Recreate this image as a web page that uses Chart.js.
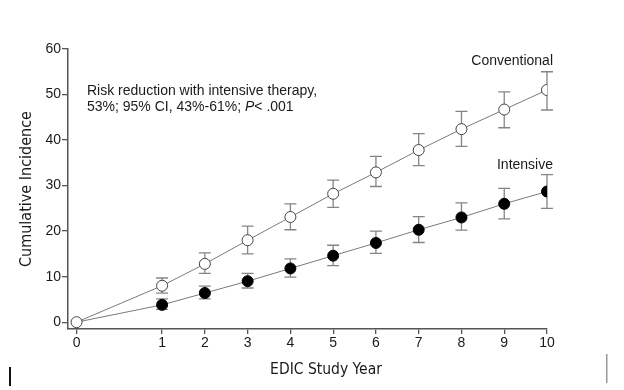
<!DOCTYPE html>
<html>
<head>
<meta charset="utf-8">
<script src="https://cdn.jsdelivr.net/npm/chart.js"></script>
<style>
  html, body { margin: 0; padding: 0; background: #fff; }
  #wrap { width: 624px; height: 390px; }
</style>
</head>
<body>
<div id="wrap"><canvas id="incidenceChart"></canvas></div>
<script>
// EDIC study years (year 0 is drawn with a wider gap before year 1)
const years = [0, 1, 2, 3, 4, 5, 6, 7, 8, 9, 10];
const conventional = [0, 8.0, 12.8, 18.0, 23.1, 28.2, 32.9, 37.8, 42.4, 46.7, 51.0];
const conventionalUpper = [null, 9.7, 15.2, 21.1, 26.0, 31.2, 36.4, 41.4, 46.3, 50.6, 55.0];
const conventionalLower = [null, 6.4, 10.7, 15.0, 20.3, 25.2, 29.8, 34.4, 38.6, 42.7, 46.6];
const intensive = [0, 3.8, 6.4, 9.0, 11.8, 14.6, 17.4, 20.3, 23.0, 26.0, 28.7];
const intensiveUpper = [null, 5.1, 7.9, 10.7, 13.9, 16.9, 20.0, 23.2, 26.2, 29.4, 32.4];
const intensiveLower = [null, 2.8, 5.1, 7.5, 9.9, 12.4, 15.1, 17.5, 20.2, 22.7, 25.0];
const yTicks = [0, 10, 20, 30, 40, 50, 60];

// axis position: year 0 sits one step further left than a regular step
const xPos = yr => yr === 0 ? -1 : yr;
const xTicks = years.map(xPos);

const textFont = 'Liberation Sans, Arial, sans-serif';
const titleFont = 'DejaVu Sans Condensed, Liberation Sans, sans-serif';

const errorBars = {
    id: 'errorBars',
    beforeDatasetsDraw(chart) {
        const ctx = chart.ctx;
        const xs = chart.scales.x, ys = chart.scales.y;
        const draw = (upper, lower) => {
            years.forEach((yr, i) => {
                if (upper[i] == null) return;
                const px = xs.getPixelForValue(xPos(yr));
                const top = ys.getPixelForValue(upper[i]);
                const bot = ys.getPixelForValue(lower[i]);
                ctx.beginPath();
                ctx.moveTo(px, top); ctx.lineTo(px, bot);
                ctx.moveTo(px - 6, top); ctx.lineTo(px + 6, top);
                ctx.moveTo(px - 6, bot); ctx.lineTo(px + 6, bot);
                ctx.stroke();
            });
        };
        ctx.save();
        ctx.strokeStyle = '#858585';
        ctx.lineWidth = 1.3;
        draw(conventionalUpper, conventionalLower);
        draw(intensiveUpper, intensiveLower);
        ctx.restore();
    }
};

const labels = {
    id: 'labels',
    afterDraw(chart) {
        const ctx = chart.ctx;
        const right = chart.chartArea.right + 6;
        ctx.save();
        ctx.fillStyle = '#1a1a1a';
        ctx.font = '14px ' + textFont;
        ctx.textAlign = 'right';
        ctx.textBaseline = 'alphabetic';
        ctx.fillText('Conventional', right, 65);
        ctx.fillText('Intensive', right, 169);

        ctx.textAlign = 'left';
        const x0 = 87;
        ctx.fillText('Risk reduction with intensive therapy,', x0, 95);
        let part = '53%; 95% CI, 43%-61%; ';
        ctx.fillText(part, x0, 111);
        let x = x0 + ctx.measureText(part).width;
        ctx.font = 'italic 14px ' + textFont;
        ctx.fillText('P', x, 111);
        x += ctx.measureText('P').width;
        ctx.font = '14px ' + textFont;
        ctx.fillText('< .001', x, 111);

        // x axis title, set a little right of the axis centre as in the original
        ctx.textAlign = 'center';
        ctx.font = '15.5px ' + titleFont;
        ctx.fillText('EDIC Study Year', 326, 374);

        // stray scan marks
        ctx.fillStyle = '#111';
        ctx.fillRect(9, 367, 2, 19);
        ctx.fillStyle = '#999';
        ctx.fillRect(606, 354, 1.5, 29);
        ctx.restore();
    }
};

const ctx = document.getElementById('incidenceChart').getContext('2d');
const incidenceChart = new Chart(ctx, {
    type: 'line',
    data: {
        datasets: [{
            label: 'Conventional',
            data: years.map((yr, i) => ({ x: xPos(yr), y: conventional[i] })),
            borderColor: '#7a7a7a',
            borderWidth: 1,
            pointRadius: 5.5,
            pointBackgroundColor: '#fff',
            pointBorderColor: '#444',
            pointBorderWidth: 1,
            tension: 0
        }, {
            label: 'Intensive',
            data: years.map((yr, i) => ({ x: xPos(yr), y: intensive[i] })),
            borderColor: '#7a7a7a',
            borderWidth: 1,
            pointRadius: c => c.dataIndex === 0 ? 0 : 5.5,
            pointBackgroundColor: '#000',
            pointBorderColor: '#000',
            pointBorderWidth: 1,
            tension: 0
        }]
    },
    options: {
        responsive: true,
        maintainAspectRatio: false,
        animation: false,
        layout: { padding: { left: 0, right: 77, top: 49, bottom: 0 } },
        plugins: {
            legend: { display: false },
            tooltip: { enabled: false }
        },
        scales: {
            x: {
                type: 'linear',
                min: -1.2,
                max: 10,
                afterBuildTicks: scale => { scale.ticks = xTicks.map(v => ({ value: v })); },
                afterFit: scale => { scale.height = 61; },
                ticks: {
                    color: '#1a1a1a',
                    font: { family: textFont, size: 14 },
                    padding: 1,
                    maxRotation: 0,
                    callback: v => v === -1 ? '0' : String(v)
                },
                grid: { drawOnChartArea: false, drawTicks: true, tickLength: 5, color: '#555', lineWidth: 1.3 },
                border: { display: true, color: '#555', width: 1.5 },
                title: { display: false }
            },
            y: {
                min: -1.5,
                max: 60,
                afterBuildTicks: scale => { scale.ticks = yTicks.map(v => ({ value: v })); },
                afterFit: scale => { scale.width = 68; },
                ticks: {
                    color: '#1a1a1a',
                    font: { family: textFont, size: 14 },
                    padding: 1
                },
                grid: { drawOnChartArea: false, drawTicks: true, tickLength: 6, color: '#555', lineWidth: 1.3 },
                border: { display: true, color: '#555', width: 1.5 },
                title: {
                    display: true,
                    text: 'Cumulative Incidence',
                    color: '#1a1a1a',
                    font: { family: titleFont, size: 16 },
                    padding: { top: 17, bottom: 0 }
                }
            }
        }
    },
    plugins: [errorBars, labels]
});
</script>
</body>
</html>
